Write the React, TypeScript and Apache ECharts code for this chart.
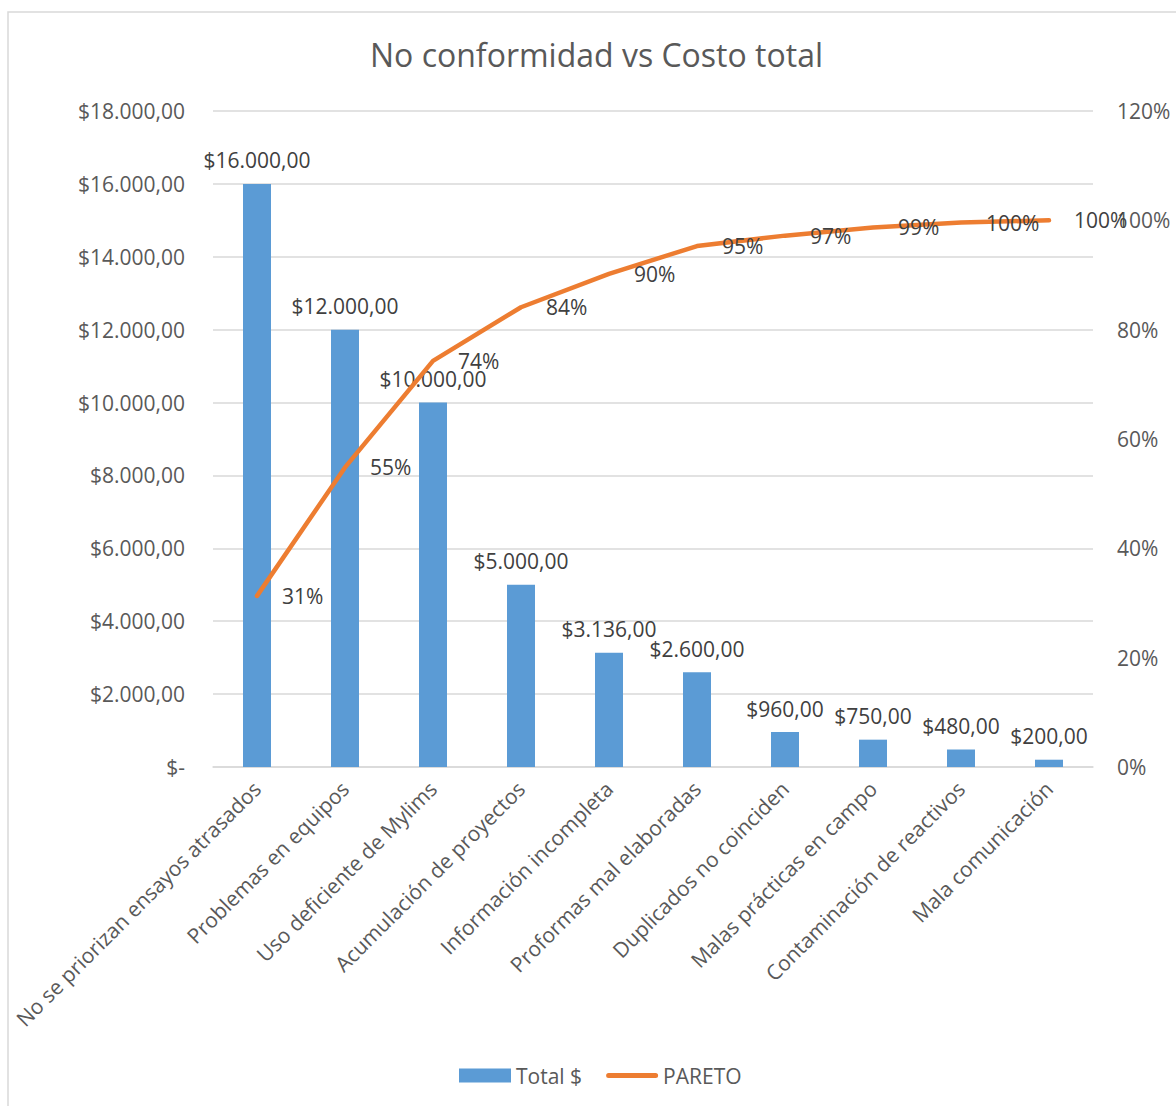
import React, { useEffect, useRef } from "react";
import * as echarts from "echarts";

const categories = [
  "No se priorizan ensayos atrasados",
  "Problemas en equipos",
  "Uso deficiente de Mylims",
  "Acumulación de proyectos",
  "Información incompleta",
  "Proformas mal elaboradas",
  "Duplicados no coinciden",
  "Malas prácticas en campo",
  "Contaminación de reactivos",
  "Mala comunicación",
];
const totals = [16000, 12000, 10000, 5000, 3136, 2600, 960, 750, 480, 200];
const pareto = [0.313, 0.548, 0.743, 0.841, 0.902, 0.953, 0.972, 0.987, 0.996, 1.0];

const FONT = "'Open Sans', sans-serif";
const FS = 21;

function money(v: number): string {
  if (v === 0) return "$-";
  const fixed = v.toFixed(2);
  const [intPart, dec] = fixed.split(".");
  const withDots = intPart.replace(/\B(?=(\d{3})+(?!\d))/g, ".");
  return "$" + withDots + "," + dec;
}

export default function App() {
  const ref = useRef<HTMLDivElement>(null);
  useEffect(() => {
    document.body.style.margin = "0";
    const chart = echarts.init(ref.current!, undefined, { renderer: "svg" });
    chart.setOption({
      animation: false,
      backgroundColor: "#ffffff",
      textStyle: { fontFamily: FONT },
      graphic: [
        {
          type: "rect",
          shape: { x: 8, y: 12, width: 1200, height: 1120 },
          style: { fill: "none", stroke: "#d9d9d9", lineWidth: 1.5 },
          silent: true,
          z: -1,
        },
      ],
      title: {
        text: "No conformidad vs Costo total",
        left: 370,
        top: 38,
        padding: 0,
        textStyle: { fontFamily: FONT, fontSize: 32, fontWeight: "normal", color: "#595959" },
      },
      legend: {
        bottom: 20,
        left: 459,
        padding: 0,
        itemWidth: 52,
        itemHeight: 14,
        itemGap: 24,
        textStyle: { fontFamily: FONT, fontSize: FS, color: "#595959" },
        data: [
          { name: "Total $", icon: "rect" },
          {
            name: "PARETO",
            icon: "path://M2.5,0 L49.5,0 A2.5,2.5 0 0 1 49.5,5 L2.5,5 A2.5,2.5 0 0 1 2.5,0 Z",
            itemStyle: { color: "#ED7D31", opacity: 1 },
          },
        ],
      },
      grid: { left: 213, right: 83, top: 111, bottom: 339, containLabel: false },
      xAxis: {
        type: "category",
        data: categories,
        axisLine: { lineStyle: { color: "#d9d9d9", width: 1.5 } },
        axisTick: { show: false },
        axisLabel: {
          rotate: 45,
          interval: 0,
          margin: 18,
          fontFamily: FONT,
          fontSize: FS,
          color: "#595959",
        },
      },
      yAxis: [
        {
          type: "value",
          min: 0,
          max: 18000,
          interval: 2000,
          axisLine: { show: false },
          axisTick: { show: false },
          splitLine: { lineStyle: { color: "#d9d9d9", width: 1.5 } },
          axisLabel: {
            margin: 28,
            fontFamily: FONT,
            fontSize: FS,
            color: "#595959",
            formatter: (v: number) => money(v),
          },
        },
        {
          type: "value",
          min: 0,
          max: 1.2,
          interval: 0.2,
          axisLine: { show: false },
          axisTick: { show: false },
          splitLine: { show: false },
          axisLabel: {
            margin: 24,
            fontFamily: FONT,
            fontSize: FS,
            color: "#595959",
            formatter: (v: number) => Math.round(v * 100) + "%",
          },
        },
      ],
      series: [
        {
          name: "Total $",
          type: "bar",
          data: totals,
          barWidth: 28,
          itemStyle: { color: "#5B9BD5" },
          label: {
            show: true,
            position: "top",
            distance: 13,
            fontFamily: FONT,
            fontSize: FS,
            color: "#404040",
            formatter: (p: any) => money(p.value),
          },
        },
        {
          name: "PARETO",
          type: "line",
          yAxisIndex: 1,
          data: pareto,
          symbol: "circle",
          symbolSize: 2,
          showSymbol: true,
          lineStyle: { color: "#ED7D31", width: 4.5, cap: "round", join: "round" },
          itemStyle: { color: "#ED7D31" },
          label: {
            show: true,
            position: "right",
            distance: 24,
            fontFamily: FONT,
            fontSize: FS,
            color: "#404040",
            formatter: (p: any) => Math.round(p.value * 100) + "%",
          },
          z: 3,
        },
      ],
    });
    return () => chart.dispose();
  }, []);
  return <div ref={ref} style={{ width: 1176, height: 1106 }} />;
}
